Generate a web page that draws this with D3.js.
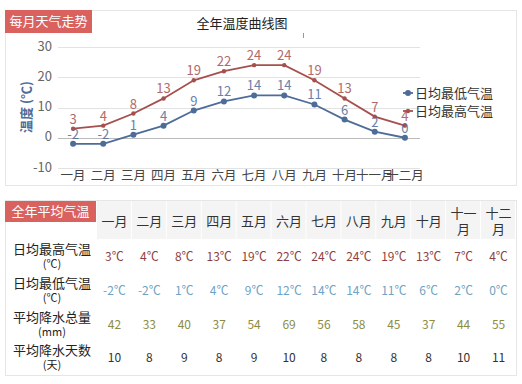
<!DOCTYPE html>
<html lang="zh">
<head>
<meta charset="UTF-8" />
<title>全年温度曲线图</title>
<script src="https://d3js.org/d3.v7.min.js"></script>
<style>
  body { margin: 0; background: #fff; font-family: "Noto Sans CJK SC", sans-serif; }
  svg { display: block; }
</style>
</head>
<body>
<svg width="522" height="384"></svg>
<script>
  const months = ["一月","二月","三月","四月","五月","六月","七月","八月","九月","十月","十一月","十二月"];
  const highTemp = [3, 4, 8, 13, 19, 22, 24, 24, 19, 13, 7, 4];
  const lowTemp = [-2, -2, 1, 4, 9, 12, 14, 14, 11, 6, 2, 0];
  const rain = [42, 33, 40, 37, 54, 69, 56, 58, 45, 37, 44, 55];
  const rainDays = [10, 8, 9, 8, 9, 10, 8, 8, 8, 8, 10, 11];
  const yTicks = [-10, 0, 10, 20, 30];

  const highColor = "#a5504d";
  const lowColor = "#4d6c98";
  const font = "'Noto Sans CJK SC', sans-serif";

  const svg = d3.select("svg");

  // ---------- top panel ----------
  svg.append("rect").attr("x", 5.5).attr("y", 10.5).attr("width", 511).attr("height", 175)
    .attr("fill", "#fff").attr("stroke", "#e6e6e6");
  svg.append("rect").attr("x", 5).attr("y", 10).attr("width", 87).attr("height", 23).attr("fill", "#d9625f");
  svg.append("text").attr("x", 48.5).attr("y", 26).attr("text-anchor", "middle")
    .attr("fill", "#fff").attr("font-size", 13).attr("font-family", font).text("每月天气走势");

  svg.append("text").attr("x", 242).attr("y", 28).attr("text-anchor", "middle")
    .attr("fill", "#222").attr("font-size", 13).attr("font-family", font).text("全年温度曲线图");
  svg.append("line").attr("x1", 303.5).attr("x2", 303.5).attr("y1", 33).attr("y2", 38).attr("stroke", "#999");

  const x = d3.scaleBand().domain(months).range([58, 420]);
  const y = d3.scaleLinear().domain([-10, 30]).range([168, 47]);
  const cx = d => x(d) + x.bandwidth() / 2;

  const g = svg.append("g");
  g.selectAll("line.grid").data(yTicks).join("line").attr("class", "grid")
    .attr("x1", 58).attr("x2", 420)
    .attr("y1", d => Math.round(y(d)) + 0.5).attr("y2", d => Math.round(y(d)) + 0.5)
    .attr("stroke", d => d === 0 ? "#bbb" : "#e2e2e2");

  g.selectAll("text.ytick").data(yTicks).join("text").attr("class", "ytick")
    .attr("x", 52).attr("y", d => y(d) - 1).attr("dy", "0.35em").attr("text-anchor", "end")
    .attr("fill", "#666").attr("font-size", 13).attr("font-family", font).text(d => d);

  g.selectAll("text.xtick").data(months).join("text").attr("class", "xtick")
    .attr("x", cx).attr("y", 180).attr("text-anchor", "middle")
    .attr("fill", "#444").attr("font-size", 12.5).attr("font-family", font).text(d => d);

  svg.append("text").attr("transform", "translate(31,107) rotate(-90)").attr("text-anchor", "middle")
    .attr("fill", "#4d6c98").attr("font-size", 13).attr("font-weight", "bold").attr("font-family", font)
    .text("温度 (℃)");

  function series(vals, color, r) {
    const line = d3.line().x((d, i) => cx(months[i])).y(d => y(d));
    g.append("path").datum(vals).attr("d", line).attr("fill", "none").attr("stroke", color).attr("stroke-width", 1.8);
    g.selectAll(null).data(vals).join("circle")
      .attr("cx", (d, i) => cx(months[i])).attr("cy", d => y(d)).attr("r", r).attr("fill", color);
    g.selectAll(null).data(vals).join("text")
      .attr("x", (d, i) => cx(months[i])).attr("y", d => y(d) - 5).attr("text-anchor", "middle")
      .attr("fill", color).attr("opacity", 0.85).attr("font-size", 13).attr("font-family", font).text(d => d);
  }
  series(highTemp, highColor, 2.2);
  series(lowTemp, lowColor, 3);

  // legend
  const legend = [["日均最低气温", lowColor], ["日均最高气温", highColor]];
  legend.forEach(([name, color], i) => {
    const ly = 93 + i * 18;
    svg.append("line").attr("x1", 403).attr("x2", 413).attr("y1", ly).attr("y2", ly).attr("stroke", color).attr("stroke-width", 1.8);
    svg.append("circle").attr("cx", 408).attr("cy", ly).attr("r", i === 0 ? 3 : 2.2).attr("fill", color);
    svg.append("text").attr("x", 415).attr("y", ly).attr("dy", "0.35em").attr("fill", "#333")
      .attr("font-size", 13).attr("font-family", font).text(name);
  });

  // ---------- table ----------
  svg.append("rect").attr("x", 5.5).attr("y", 200.5).attr("width", 511).attr("height", 175)
    .attr("fill", "#fff").attr("stroke", "#e6e6e6");

  const col = d3.scaleBand().domain(months).range([97, 516]);
  const ccx = d => col(d) + col.bandwidth() / 2;

  svg.selectAll("rect.head").data(months).join("rect").attr("class", "head")
    .attr("x", d => col(d)).attr("y", 201).attr("width", col.bandwidth() - 1).attr("height", 38)
    .attr("fill", "#f4f4f4");
  svg.append("rect").attr("x", 5).attr("y", 201).attr("width", 91).attr("height", 21).attr("fill", "#d9625f");
  svg.append("text").attr("x", 50.5).attr("y", 216).attr("text-anchor", "middle")
    .attr("fill", "#fff").attr("font-size", 13).attr("font-family", font).text("全年平均气温");

  months.forEach(m => {
    const t = svg.append("text").attr("text-anchor", "middle").attr("fill", "#333")
      .attr("font-size", 13).attr("font-family", font);
    if (m.length > 2) {
      t.append("tspan").attr("x", ccx(m)).attr("y", 218).text(m.slice(0, 2));
      t.append("tspan").attr("x", ccx(m)).attr("y", 234).text(m.slice(2));
    } else {
      t.attr("x", ccx(m)).attr("y", 226).text(m);
    }
  });

  const rows = [
    { label: "日均最高气温", unit: "(℃)", vals: highTemp.map(v => v + "℃"), color: "#8e3f3f", y: 257 },
    { label: "日均最低气温", unit: "(℃)", vals: lowTemp.map(v => v + "℃"), color: "#6fa3c4", y: 291 },
    { label: "平均降水总量", unit: "(mm)", vals: rain, color: "#8c8c45", y: 325 },
    { label: "平均降水天数", unit: "(天)", vals: rainDays, color: "#333", y: 358 }
  ];
  rows.forEach(r => {
    svg.append("text").attr("x", 52).attr("y", r.y - 3).attr("text-anchor", "middle")
      .attr("fill", "#222").attr("font-size", 13).attr("font-family", font).text(r.label);
    svg.append("text").attr("x", 52).attr("y", r.y + 11).attr("text-anchor", "middle")
      .attr("fill", "#222").attr("font-size", 11).attr("font-family", font).text(r.unit);
    svg.selectAll(null).data(r.vals).join("text")
      .attr("x", (d, i) => ccx(months[i])).attr("y", r.y).attr("dy", "0.35em").attr("text-anchor", "middle")
      .attr("fill", r.color).attr("font-size", 12).attr("font-family", font).text(d => d);
  });
</script>
</body>
</html>
